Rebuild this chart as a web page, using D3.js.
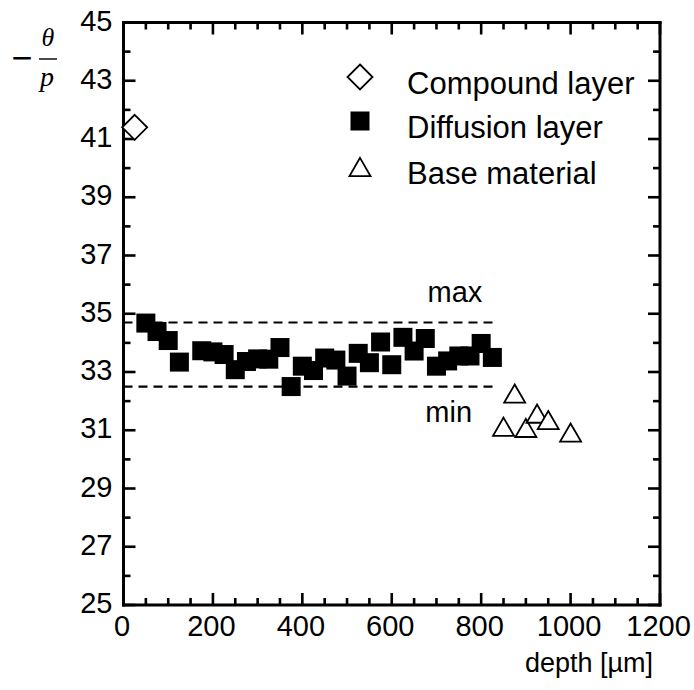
<!DOCTYPE html>
<html>
<head>
<meta charset="utf-8">
<script src="https://cdn.jsdelivr.net/npm/d3@7"></script>
<style>
  body { margin: 0; background: #fff; }
  text { font-family: "Liberation Sans", Arial, Helvetica, sans-serif; }
  .tick text { font-size: 29px; fill: #000; }
</style>
</head>
<body>
<script>
let width = 694;
let height = 690;

// data
let compoundDepth = [25];
let compoundVal = [41.4];

let diffusionDepth = [50, 75, 100, 125, 175, 200, 225, 250, 275, 300, 325, 350, 375, 400, 425,
    450, 475, 500, 525, 550, 575, 600, 625, 650, 675, 700, 725, 750, 775, 800, 825];
let diffusionVal = [34.68, 34.39, 34.08, 33.34, 33.73, 33.69, 33.6, 33.08, 33.36, 33.45, 33.44, 33.84, 32.5, 33.2, 33.05,
    33.48, 33.41, 32.86, 33.64, 33.32, 34.03, 33.25, 34.19, 33.72, 34.15, 33.2, 33.38, 33.55, 33.55, 33.98, 33.5];

let baseDepth = [850, 875, 900, 925, 950, 1000];
let baseVal = [31.12, 32.26, 31.08, 31.57, 31.35, 30.92];

let limitNames = ["max", "min"];
let limitVals = [34.7, 32.5];
let limitEnd = 830;

let legendNames = ["Compound layer", "Diffusion layer", "Base material"];

let xMajor = [0, 200, 400, 600, 800, 1000, 1200];
let yMajor = [25, 27, 29, 31, 33, 35, 37, 39, 41, 43, 45];

let plotLeft = 123.5, plotRight = 660, plotTop = 22.5, plotBottom = 605;

let svg = d3.select("body").append("svg")
    .attr("width", width)
    .attr("height", height);

let x = d3.scaleLinear().domain([0, 1200]).range([plotLeft, plotRight]);
let y = d3.scaleLinear().domain([25, 45]).range([plotBottom, plotTop]);

let xMinor = d3.range(0, 1201, 50).filter(d => d % 200 != 0);
let yMinor = d3.range(25, 46, 1).filter(d => (d - 25) % 2 != 0);

// tick labels from d3 axes (tick marks drawn separately below)
svg.append("g")
    .attr("transform", "translate(0," + plotBottom + ")")
    .call(d3.axisBottom(x).tickValues(xMajor).tickFormat(d3.format("d")).tickSize(0).tickPadding(10))
    .call(g => g.select(".domain").remove())
    .call(g => g.selectAll("text").attr("dx", -2));

svg.append("g")
    .attr("transform", "translate(" + plotLeft + ",0)")
    .call(d3.axisLeft(y).tickValues(yMajor).tickFormat(d3.format("d")).tickSize(0).tickPadding(11))
    .call(g => g.select(".domain").remove())
    .call(g => g.selectAll("text").attr("dy", "0.26em"));

// inward tick marks on all four sides, drawn as thin filled rects
let tw = 2.6;
let ticks = svg.append("g").attr("fill", "#000");
function xTicks(vals, len) {
    ticks.selectAll(null).data(vals).enter().append("rect")
        .attr("x", d => x(d) - tw / 2).attr("y", plotBottom - len)
        .attr("width", tw).attr("height", len);
    ticks.selectAll(null).data(vals).enter().append("rect")
        .attr("x", d => x(d) - tw / 2).attr("y", plotTop)
        .attr("width", tw).attr("height", len);
}
function yTicks(vals, len) {
    ticks.selectAll(null).data(vals).enter().append("rect")
        .attr("x", plotLeft).attr("y", d => y(d) - tw / 2)
        .attr("width", len).attr("height", tw);
    ticks.selectAll(null).data(vals).enter().append("rect")
        .attr("x", plotRight - len).attr("y", d => y(d) - tw / 2)
        .attr("width", len).attr("height", tw);
}
xTicks(xMajor, 12);
xTicks(xMinor, 7);
yTicks(yMajor, 12);
yTicks(yMinor, 7);

// frame
let fw = 3;
let frame = svg.append("g").attr("fill", "#000");
frame.append("rect").attr("x", plotLeft - fw / 2).attr("y", plotTop - fw / 2)
    .attr("width", plotRight - plotLeft + fw).attr("height", fw);
frame.append("rect").attr("x", plotLeft - fw / 2).attr("y", plotBottom - fw / 2)
    .attr("width", plotRight - plotLeft + fw).attr("height", fw);
frame.append("rect").attr("x", plotLeft - fw / 2).attr("y", plotTop - fw / 2)
    .attr("width", fw).attr("height", plotBottom - plotTop + fw);
frame.append("rect").attr("x", plotRight - fw / 2).attr("y", plotTop - fw / 2)
    .attr("width", fw).attr("height", plotBottom - plotTop + fw);

// max / min dashed lines
svg.selectAll(".limit")
    .data(limitVals)
    .enter().append("line")
    .attr("class", "limit")
    .attr("x1", x(0)).attr("x2", x(limitEnd))
    .attr("y1", d => y(d)).attr("y2", d => y(d))
    .attr("stroke", "#000").attr("stroke-width", 2.2)
    .attr("stroke-dasharray", "9,6");

svg.append("text").attr("x", x(680)).attr("y", y(limitVals[0]) - 20)
    .attr("font-size", 29).text(limitNames[0]);
svg.append("text").attr("x", x(675)).attr("y", y(limitVals[1]) + 35)
    .attr("font-size", 29).text(limitNames[1]);

// marker shapes
function diamondPath(r) { return "M0," + (-r) + "L" + r + ",0L0," + r + "L" + (-r) + ",0Z"; }
function trianglePath(w) {
    let h = w * 0.866;
    return "M0," + (-h / 2) + "L" + (w / 2) + "," + (h / 2) + "L" + (-w / 2) + "," + (h / 2) + "Z";
}

svg.append("g").selectAll("rect")
    .data(diffusionDepth)
    .enter().append("rect")
    .attr("x", (d, i) => x(d) - 9.5)
    .attr("y", (d, i) => y(diffusionVal[i]) - 9.5)
    .attr("width", 19).attr("height", 19)
    .attr("fill", "#000");

svg.append("g").selectAll("path")
    .data(baseDepth)
    .enter().append("path")
    .attr("d", trianglePath(21))
    .attr("transform", (d, i) => "translate(" + x(d) + "," + y(baseVal[i]) + ")")
    .attr("fill", "#fff").attr("stroke", "#000").attr("stroke-width", 1.8);

svg.append("g").selectAll("path")
    .data(compoundDepth)
    .enter().append("path")
    .attr("d", diamondPath(12.5))
    .attr("transform", (d, i) => "translate(" + x(d) + "," + y(compoundVal[i]) + ")")
    .attr("fill", "#fff").attr("stroke", "#000").attr("stroke-width", 1.8);

// legend
let legendX = 360;
let legendY = [77, 121, 167];
let legend = svg.append("g");
legend.append("path").attr("d", diamondPath(12.5))
    .attr("transform", "translate(" + legendX + "," + legendY[0] + ")")
    .attr("fill", "#fff").attr("stroke", "#000").attr("stroke-width", 1.8);
legend.append("rect").attr("x", legendX - 9.5).attr("y", legendY[1] - 9.5)
    .attr("width", 19).attr("height", 19).attr("fill", "#000");
legend.append("path").attr("d", trianglePath(21))
    .attr("transform", "translate(" + legendX + "," + legendY[2] + ")")
    .attr("fill", "#fff").attr("stroke", "#000").attr("stroke-width", 1.8);
legend.selectAll("text")
    .data(legendNames)
    .enter().append("text")
    .attr("x", 407)
    .attr("y", (d, i) => legendY[i] + 6)
    .attr("dy", "0.35em")
    .attr("font-size", 31)
    .text(d => d);

// axis titles
svg.append("text")
    .attr("x", 653).attr("y", 672)
    .attr("text-anchor", "end")
    .attr("font-size", 27)
    .text("depth [\u00b5m]");

let yTitle = svg.append("g");
yTitle.append("text").attr("x", 22).attr("y", 70).attr("text-anchor", "middle")
    .attr("font-size", 36).text("\u2212");
yTitle.append("text").attr("x", 48).attr("y", 46).attr("text-anchor", "middle")
    .attr("font-size", 26).attr("font-style", "italic").style("font-family", "'Liberation Serif', serif").text("\u03b8");
yTitle.append("rect").attr("x", 39).attr("y", 58.3).attr("width", 18).attr("height", 1.4)
    .attr("fill", "#000");
yTitle.append("text").attr("x", 47).attr("y", 86).attr("text-anchor", "middle")
    .attr("font-size", 28).attr("font-style", "italic").style("font-family", "'Liberation Serif', serif").text("p");
</script>
</body>
</html>
